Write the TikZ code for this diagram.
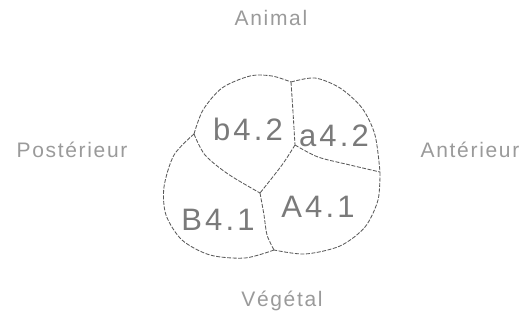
\documentclass[tikz,border=0pt]{standalone}
\usepackage{fontspec}
\newfontfamily\labfont[LetterSpace=8]{Liberation Sans}
\newfontfamily\cellfont[LetterSpace=10]{Liberation Sans}
\usetikzlibrary{calc}
\definecolor{labgray}{HTML}{9A9A9A}
\definecolor{cellgray}{HTML}{7A7A7A}
\definecolor{linegray}{HTML}{5A5A5A}
\tikzset{
  wall/.style={draw=linegray, line width=0.85pt, dash pattern=on 4pt off 1.5pt},
  axislabel/.style={text=labgray, font=\labfont\fontsize{21}{24}\selectfont, inner sep=0pt},
  celllabel/.style={text=cellgray, font=\cellfont\fontsize{31}{36}\selectfont, inner sep=0pt}
}
\begin{document}
\begin{tikzpicture}[x=1pt,y=-1pt]
\useasboundingbox (0,0) rectangle (529,323);
% junctions
\coordinate (J1) at (291,82);
\coordinate (J2) at (295,145);
\coordinate (J3) at (260,193);
\coordinate (J4) at (194,134);
\coordinate (J5) at (380,172);
\coordinate (J6) at (274,250);
% outer walls
\draw[wall] plot[smooth] coordinates {(J4) (203,110) (222,88) (250,76) (272,76) (J1)};
\draw[wall] plot[smooth] coordinates {(J1) (315,78) (340,88) (362,108) (375,135) (J5)};
\draw[wall] plot[smooth] coordinates {(J5) (378,200) (365,227) (340,246) (305,254) (J6)};
\draw[wall] plot[smooth] coordinates {(J6) (245,258) (210,255) (182,240) (166,215) (164,187) (174,155) (J4)};
% inner walls
\draw[wall] plot[smooth] coordinates {(J1) (293,112) (J2)};
\draw[wall] plot[smooth] coordinates {(J2) (318,157) (350,165) (J5)};
\draw[wall] plot[smooth] coordinates {(J2) (282,165) (J3)};
\draw[wall] plot[smooth] coordinates {(J4) (205,155) (228,174) (J3)};
\draw[wall] plot[smooth] coordinates {(J3) (264,215) (267,235) (J6)};
% cell labels
\node[celllabel] (b42) at (248,129) {b4.2};
\node[celllabel] (a42) at (334,136) {a4.2};
\node[celllabel] (B41) at (218,220) {B4.1};
\node[celllabel] (A41) at (318,207) {A4.1};
% axis labels
\node[axislabel] (animal) at (271,18) {Animal};
\node[axislabel] (post) at (72,150) {Postérieur};
\node[axislabel] (ant) at (470,150) {Antérieur};
\node[axislabel] (veg) at (282,301) {Végétal};
\end{tikzpicture}
\end{document}
